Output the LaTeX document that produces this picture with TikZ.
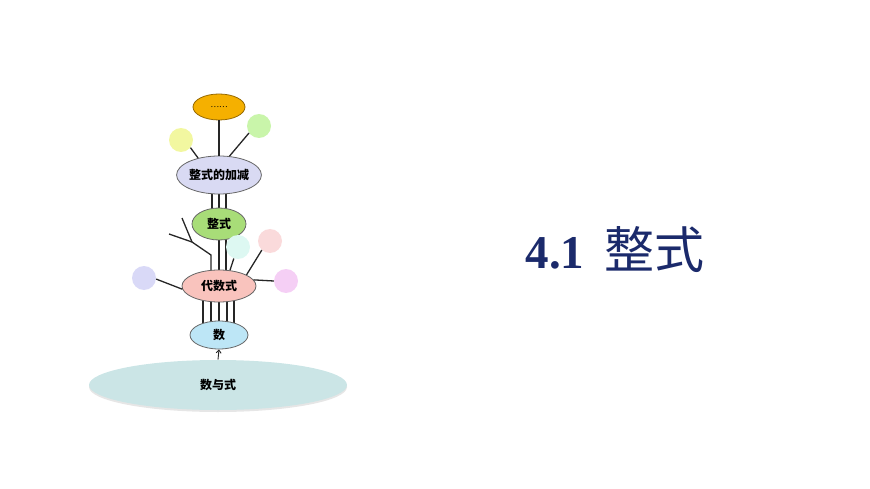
\documentclass[tikz,border=0pt]{standalone}
\usepackage{fontspec}
\setmainfont{Liberation Serif}
\newfontfamily\cjk{Noto Sans CJK SC}
\usepackage{tikz}
\usetikzlibrary{shapes.geometric, shadows, backgrounds, arrows.meta}
\definecolor{dotsfill}{RGB}{245,176,0}
\definecolor{dotsline}{RGB}{150,105,0}
\definecolor{jiafill}{RGB}{217,218,243}
\definecolor{zsfill}{RGB}{168,221,120}
\definecolor{dshfill}{RGB}{249,195,189}
\definecolor{shufill}{RGB}{189,230,246}
\definecolor{syxfill}{RGB}{203,229,230}
\definecolor{navy}{RGB}{27,42,107}

\begin{document}
\begin{tikzpicture}[x=1pt, y=-1pt,
  oval/.style={ellipse, draw=black!60, line width=0.8pt, inner sep=0pt,
    font=\cjk\bfseries\fontsize{12}{12}\selectfont},
  ball/.style={circle, minimum size=24, inner sep=0pt},
  twig/.style={draw=black!85, line width=1.3pt}]
\useasboundingbox (0,0) rectangle (870,489);

% tree
\node[oval, fill=dotsfill, draw=dotsline, minimum width=52, minimum height=26,
  font=\cjk\fontsize{8}{8}\selectfont] (dots) at (219,107) {……};
\node[oval, fill=jiafill, minimum width=84, minimum height=38] (jia) at (219,175) {整式的加减};
\node[oval, fill=zsfill, minimum width=54, minimum height=32] (zs) at (219,224) {整式};
\node[oval, fill=dshfill, minimum width=74, minimum height=32] (dsh) at (219,286) {代数式};
\node[oval, fill=shufill, minimum width=58, minimum height=28] (shu) at (219,335) {数};
\node[oval, draw=none, fill=syxfill, minimum width=258, minimum height=50,
  drop shadow={shadow xshift=0pt, shadow yshift=-2pt, opacity=0.2, fill=gray}] (syx) at (218,385) {数与式};

% leaves
\foreach \n/\x/\y/\c in {yel/181/140/{rgb,255:red,242;green,247;blue,160},
  grn/259/126/{rgb,255:red,201;green,245;blue,170},
  cya/238/247/{rgb,255:red,221;green,248;blue,242},
  pnk/270/241/{rgb,255:red,250;green,218;blue,219},
  vir/286/281/{rgb,255:red,245;green,207;blue,245},
  vil/144/278/{rgb,255:red,217;green,217;blue,247}}{
\node[ball, fill=\c] (\n) at (\x,\y) {};
}

\coordinate (knee) at (211,255);
\coordinate (fork) at (192,242);
\coordinate (twigA) at (169,234);
\coordinate (twigB) at (182,218);

\begin{scope}[on background layer]
\foreach \d in {-7,0,7}
  \draw[twig] ([xshift=\d]jia.center) -- ([xshift=\d]zs.center);
\foreach \d in {0,7}
  \draw[twig] ([xshift=\d]zs.center) -- ([xshift=\d]dsh.center);
\draw[twig] ([xshift=-8]dsh.center) -- (knee) -- (fork) -- (twigA);
\draw[twig] (fork) -- (twigB);
\foreach \d in {-16,-8,0,8,15}
  \draw[twig] ([xshift=\d]dsh.center) -- ([xshift=\d]shu.center);
\end{scope}

\draw[twig] (dots.south) -- (jia.north);
\draw[twig] (yel.-39) -- (jia.141);
\draw[twig] (grn.215) -- (jia.61);
\draw[twig] (cya.-110) -- (dsh.55);
\draw[twig] (pnk.-132) -- (dsh.22);
\draw[twig] (vir.180) -- (dsh.10);
\draw[twig] (vil.-5) -- (dsh.185);
\draw[twig, line width=0.9pt, -{Straight Barb[length=3pt, width=5pt]}] (syx.north) -- (shu.south);

% title
\node[font=\bfseries\fontsize{47}{47}\selectfont, text=navy] (title) at (615,250)
  {4.1\hspace{20pt}{\cjk\mdseries\fontsize{50}{50}\selectfont 整式}};
\end{tikzpicture}
\end{document}
